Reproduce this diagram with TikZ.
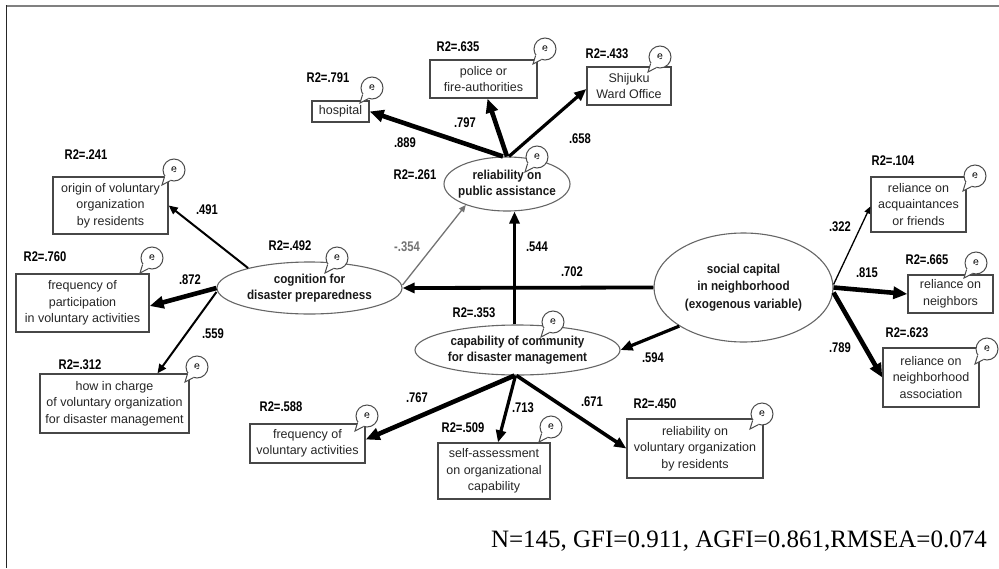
\documentclass[tikz,border=0pt]{standalone}
\usepackage{fontspec}
\setmainfont{Liberation Sans}
\newfontfamily\lblfont[FakeStretch=0.8]{Liberation Sans}
\newfontfamily\latfont[FakeStretch=0.9]{Liberation Sans}
\newfontfamily\statfont{Liberation Serif}
\usetikzlibrary{arrows.meta,shapes.geometric}

\tikzset{
  obsbox/.style={draw=black!72, line width=1.4pt, fill=white, align=center,
    inner sep=0pt, text=black!85, font=\fontsize{12.5}{16.5}\selectfont},
  latbox/.style={ellipse, draw=black!60, line width=1.1pt, inner sep=0pt},
  lattext/.style={align=center, inner sep=0pt, text=black!90,
    font=\latfont\bfseries\fontsize{13}{15.5}\selectfont},
  errnode/.style={circle, draw=black!70, line width=1pt, fill=white,
    minimum size=22pt, inner sep=0pt, font=\fontsize{10.5}{10.5}\selectfont},
  errtail/.style={draw=black!70, line width=1pt},
  lbl/.style={inner sep=0pt, font=\lblfont\bfseries\fontsize{14}{14}\selectfont},
  pathheavy/.style={draw=black, line width=4.6pt, -{Triangle[length=14pt,width=12pt]}},
  pathmid/.style={draw=black, line width=3.2pt, -{Triangle[length=12pt,width=10pt]}},
  pathlight/.style={draw=black, line width=2pt, -{Triangle[length=9pt,width=8pt]}},
  paththin/.style={draw=black, line width=1.3pt, -{Triangle[length=7pt,width=6pt]}},
}

% error term: small circle with a speech-bubble tail towards its variable
\newcommand\errbubble[3]{%
  \node[errnode] (#1) at (#2,#3) {e};
  \fill[white] (#1.215) -- ([shift={(-12pt,-15pt)}]#1.center) -- (#1.250) -- (#1.center) -- cycle;
  \draw[errtail] (#1.215) -- ([shift={(-12pt,-15pt)}]#1.center) -- (#1.250);
}

\begin{document}
\begin{tikzpicture}[x=1pt,y=-1pt]
\useasboundingbox (0,0) rectangle (999,568);

% frame
\draw[black!50, line width=2pt] (5.5,6) -- (999,6);
\draw[black!85, line width=1.6pt] (6.5,5) -- (6.5,568);

% latent variables
\node[latbox, minimum width=126pt, minimum height=54pt] (rel) at (507,184) {};
\node[lattext] (reltext) at (rel.center) {reliability on\\public assistance};
\node[latbox, minimum width=185pt, minimum height=52pt] (cog) at (309.5,288) {};
\node[lattext] (cogtext) at (cog.center) {cognition for\\disaster preparedness};
\node[latbox, minimum width=179pt, minimum height=109pt] (soc) at (743.5,287.5) {};
\node[lattext, font=\latfont\bfseries\fontsize{13}{17.5}\selectfont] (soctext) at (soc.center)
  {social capital\\in neighborhood\\(exogenous variable)};
\node[latbox, minimum width=205pt, minimum height=50pt] (cap) at (517.5,350) {};
\node[lattext] (captext) at (cap.center) {capability of community\\for disaster management};

% observed variables
\node[obsbox, minimum width=57pt, minimum height=21pt] (hosp) at (340.5,111.5) {hospital};
\node[obsbox, minimum width=107pt, minimum height=38pt] (pol) at (483.5,79) {police or\\fire-authorities};
\node[obsbox, minimum width=84pt, minimum height=38pt] (shij) at (629,86) {Shijuku\\Ward Office};
\node[obsbox, minimum width=115pt, minimum height=57pt] (orig) at (110.5,205.5) {origin of voluntary\\organization\\by residents};
\node[obsbox, minimum width=133pt, minimum height=58pt] (fpart) at (82.5,303) {frequency of\\participation\\in voluntary activities};
\node[obsbox, minimum width=149pt, minimum height=59pt] (how) at (114.5,403.5) {how in charge\\of voluntary organization\\for disaster management};
\node[obsbox, minimum width=115pt, minimum height=39pt] (fvol) at (307.5,443.5) {frequency of\\voluntary activities};
\node[obsbox, minimum width=112pt, minimum height=56pt] (self) at (494,471) {self-assessment\\on organizational\\capability};
\node[obsbox, minimum width=136pt, minimum height=59pt] (relvol) at (695,448.5) {reliability on\\voluntary organization\\by residents};
\node[obsbox, minimum width=95pt, minimum height=55pt] (acq) at (918.5,204.5) {reliance on\\acquaintances\\or friends};
\node[obsbox, minimum width=85pt, minimum height=38pt] (neigh) at (950.5,294) {reliance on\\neighbors};
\node[obsbox, minimum width=96pt, minimum height=59pt] (assoc) at (931,377.5) {reliance on\\neighborhood\\association};

% paths
\draw[pathheavy] ([xshift=-4pt]rel.north) -- (hosp.east);
\draw[pathheavy] (rel.north) -- ([xshift=4pt]pol.south);
\draw[pathmid] ([xshift=2pt]rel.north) -- ([yshift=-3pt]shij.west);
\draw[pathlight] (cog.162) -- (orig.east);
\draw[pathheavy] (cog.west) -- ([yshift=-3pt]fpart.east);
\draw[pathlight] ([yshift=-4pt]cog.west) -- ([xshift=43pt]how.north);
\draw[paththin, draw=black!55] ([yshift=3pt]cog.east) -- (rel.207);
\draw[pathmid] ([xshift=-3pt]cap.north) -- ([xshift=-3pt]cap.north |- rel.south);
\draw[pathmid, line width=3.8pt] (soc.west) -- (cog.east);
\draw[pathmid] (soc.211) -- (cap.east);
\draw[paththin] ([yshift=3pt]soc.east) -- ([yshift=-2pt]acq.west);
\draw[pathheavy] (soc.east) -- (neigh.west);
\draw[pathheavy] ([yshift=-5pt]soc.east) -- (assoc.west);
\draw[pathheavy] ([xshift=-3pt]cap.south) -- ([yshift=4pt]fvol.east);
\draw[pathmid] ([xshift=-2pt]cap.south) -- ([xshift=4pt]self.north);
\draw[pathmid, line width=3.6pt] ([xshift=-1pt]cap.south) -- (relvol.west);

% error terms
\errbubble{ehosp}{372}{88}
\errbubble{epol}{545}{49}
\errbubble{eshij}{660}{57}
\errbubble{erel}{537}{157}
\errbubble{eorig}{174}{170}
\errbubble{efpart}{152}{258}
\errbubble{ecog}{337}{258}
\errbubble{ehow}{197}{367}
\errbubble{ecap}{553}{322}
\errbubble{efvol}{367}{416}
\errbubble{eself}{551}{427}
\errbubble{erelvol}{762}{414}
\errbubble{eacq}{975}{176}
\errbubble{eneigh}{976}{263}
\errbubble{eassoc}{987}{349}

% squared multiple correlations
\node[lbl] (rhosp) at (328,78) {R2=.791};
\node[lbl] (rpol) at (458,47) {R2=.635};
\node[lbl] (rshij) at (607,54) {R2=.433};
\node[lbl] (rrel) at (415,175) {R2=.261};
\node[lbl] (rorig) at (86,155) {R2=.241};
\node[lbl] (rfpart) at (45,257) {R2=.760};
\node[lbl] (rcog) at (290,246) {R2=.492};
\node[lbl] (rhow) at (80,365) {R2=.312};
\node[lbl] (rcap) at (474,313) {R2=.353};
\node[lbl] (rfvol) at (281,407) {R2=.588};
\node[lbl] (rself) at (463,428) {R2=.509};
\node[lbl] (rrelvol) at (655,404) {R2=.450};
\node[lbl] (racq) at (893,161) {R2=.104};
\node[lbl] (rneigh) at (927,260) {R2=.665};
\node[lbl] (rassoc) at (907,333) {R2=.623};

% path coefficients
\node[lbl] (c1) at (405,143) {.889};
\node[lbl] (c2) at (465,123) {.797};
\node[lbl] (c3) at (580,139) {.658};
\node[lbl] (c4) at (207,210) {.491};
\node[lbl] (c5) at (190,280) {.872};
\node[lbl] (c6) at (213,334) {.559};
\node[lbl, text=black!55] (c7) at (407,247) {-.354};
\node[lbl] (c8) at (537,247) {.544};
\node[lbl] (c9) at (572,272) {.702};
\node[lbl] (c10) at (653,358) {.594};
\node[lbl] (c11) at (840,227) {.322};
\node[lbl] (c12) at (867,273) {.815};
\node[lbl] (c13) at (840,348) {.789};
\node[lbl] (c14) at (417,398) {.767};
\node[lbl] (c15) at (523,408) {.713};
\node[lbl] (c16) at (592,402) {.671};

% fit indices
\node[anchor=base east, inner sep=0pt, font=\statfont\fontsize{25}{30}\selectfont] (fit) at (987,547)
  {N=145, GFI=0.911, AGFI=0.861,RMSEA=0.074};
\end{tikzpicture}
\end{document}
